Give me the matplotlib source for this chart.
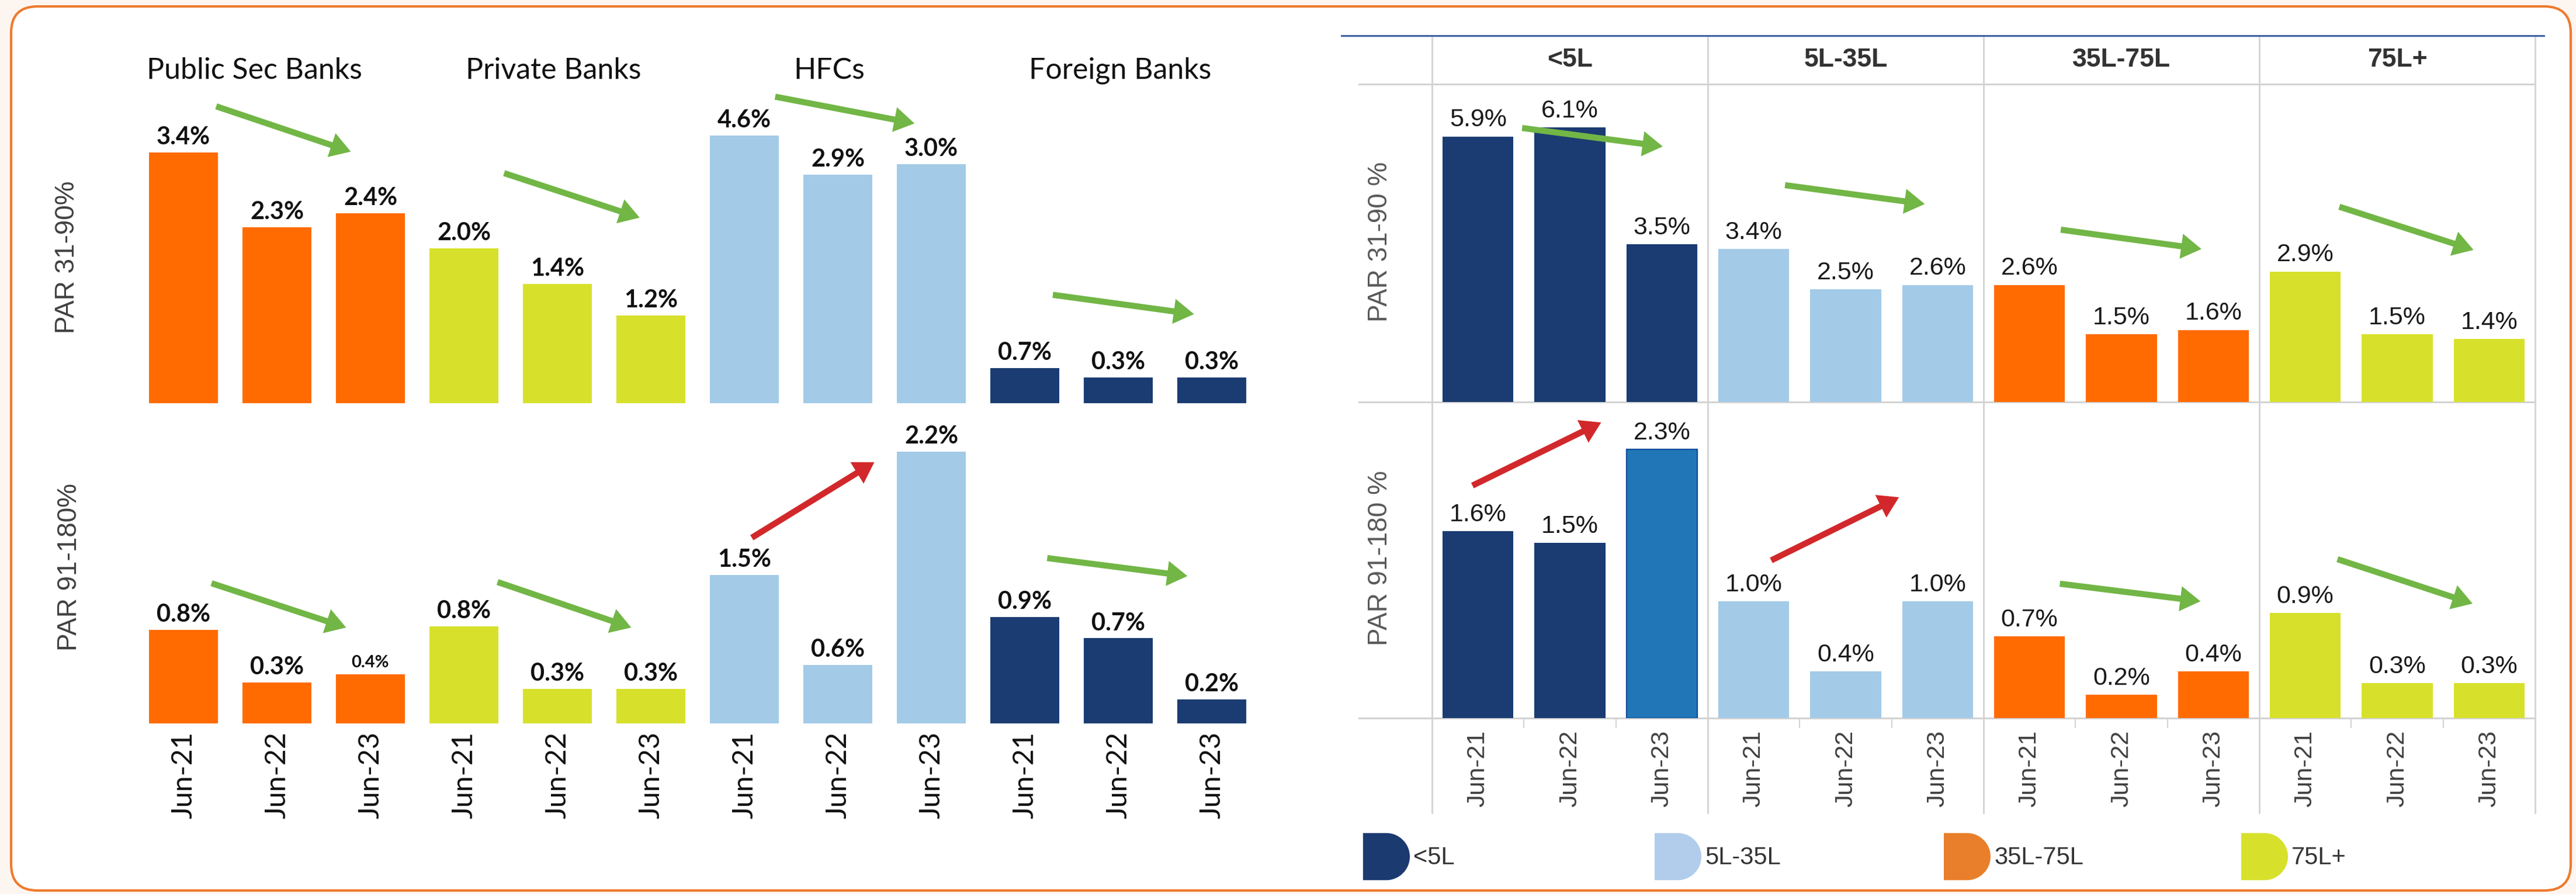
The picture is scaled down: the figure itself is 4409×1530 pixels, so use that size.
import matplotlib
matplotlib.use("Agg")

import matplotlib.pyplot as plt
import matplotlib.patches as mpatches
from matplotlib.legend_handler import HandlerPatch
from matplotlib.path import Path


W, H = 4409, 1530

# ---- data -------------------------------------------------------------
periods = ["Jun-21", "Jun-22", "Jun-23"]

bank_groups = ["Public Sec Banks", "Private Banks", "HFCs", "Foreign Banks"]
# printed values
bank_par31 = [3.4, 2.3, 2.4, 2.0, 1.4, 1.2, 4.6, 2.9, 3.0, 0.7, 0.3, 0.3]
bank_par91 = [0.8, 0.3, 0.4, 0.8, 0.3, 0.3, 1.5, 0.6, 2.2, 0.9, 0.7, 0.2]
# the source graphic does not draw these bars to scale; heights as drawn
bank_par31_drawn = [3.38, 2.37, 2.56, 2.09, 1.61, 1.18, 3.61, 3.08, 3.22, 0.47, 0.35, 0.35]
bank_par91_drawn = [0.78, 0.34, 0.41, 0.81, 0.29, 0.29, 1.24, 0.49, 2.27, 0.89, 0.71, 0.20]

ticket_groups = ["<5L", "5L-35L", "35L-75L", "75L+"]
ticket_par31 = [5.9, 6.1, 3.5, 3.4, 2.5, 2.6, 2.6, 1.5, 1.6, 2.9, 1.5, 1.4]
ticket_par91 = [1.6, 1.5, 2.3, 1.0, 0.4, 1.0, 0.7, 0.2, 0.4, 0.9, 0.3, 0.3]

# trend arrows: (x_from, y_from, x_to, y_to, colour key), in bar/value units
bank_arrows_31 = [(0.35, 4.00, 1.79, 3.39, "down"), (3.43, 3.10, 4.88, 2.50, "down"),
                  (6.33, 4.13, 7.82, 3.77, "down"), (9.30, 1.46, 10.81, 1.20, "down")]
bank_arrows_91 = [(0.30, 1.17, 1.74, 0.80, "down"), (3.36, 1.18, 4.79, 0.80, "down"),
                  (6.08, 1.55, 7.39, 2.18, "up"), (9.24, 1.38, 10.74, 1.23, "down")]
ticket_arrows_31 = [(0.48, 6.09, 2.01, 5.68, "down"), (3.34, 4.82, 4.86, 4.40, "down"),
                    (6.34, 3.83, 7.87, 3.40, "down"), (9.37, 4.34, 10.83, 3.38, "down")]
ticket_arrows_91 = [(-0.06, 1.99, 1.34, 2.53, "up"), (3.19, 1.35, 4.58, 1.89, "up"),
                    (6.33, 1.15, 7.86, 1.00, "down"), (9.35, 1.36, 10.82, 0.98, "down")]

# ---- style ------------------------------------------------------------
ORANGE = "#FF6B00"
YELLOW = "#D7E12B"
LIGHT_BLUE = "#A3CBE7"
NAVY = "#1B3C72"
MID_BLUE = "#2076B6"
ARROW = {"down": "#72B646", "up": "#D2282B"}
GRID = "#D3D3D3"

CAL = "Lato"
ARIAL = "Liberation Sans"

bank_colors = [ORANGE, YELLOW, LIGHT_BLUE, NAVY]
ticket_colors = [NAVY, LIGHT_BLUE, ORANGE, YELLOW]
legend_colors = ["#1B3A70", "#B1CDEB", "#E97F2A", "#D7E12B"]

# title anchors in bar-index units (titles sit slightly off the group centres)
bank_title_x = [0.76, 3.96, 6.91, 10.02]


def px_axes(fig, left, top, right, bottom):
    ax = fig.add_axes([left / W, 1 - bottom / H, (right - left) / W, (bottom - top) / H])
    ax.set_facecolor("none")
    for s in ax.spines.values():
        s.set_visible(False)
    ax.set_yticks([])
    return ax


def draw_arrows(ax, arrows):
    for x0, y0, x1, y1, kind in arrows:
        ax.annotate(
            "", xy=(x1, y1), xytext=(x0, y0),
            arrowprops=dict(arrowstyle="simple,head_length=25,head_width=31,tail_width=7.5",
                            mutation_scale=1, color=ARROW[kind], shrinkA=0, shrinkB=0,
                            lw=0),
            annotation_clip=False, zorder=5,
        )


def d_patch(legend, orig_handle, xdescent, ydescent, width, height, fontsize):
    x0, y0 = -xdescent, -ydescent
    r = height / 2.0
    xs = x0 + width - r
    k = 0.5523 * r
    verts = [(x0, y0), (xs, y0), (xs + k, y0), (x0 + width, y0 + r - k), (x0 + width, y0 + r),
             (x0 + width, y0 + r + k), (xs + k, y0 + height), (xs, y0 + height),
             (x0, y0 + height), (x0, y0)]
    codes = [Path.MOVETO, Path.LINETO, Path.CURVE4, Path.CURVE4, Path.CURVE4,
             Path.CURVE4, Path.CURVE4, Path.CURVE4, Path.LINETO, Path.CLOSEPOLY]
    return mpatches.PathPatch(Path(verts, codes))


fig = plt.figure(figsize=(W / 100, H / 100), dpi=100)
fig.patch.set_facecolor("#FDF6F0")

# rounded white card
bg = fig.add_axes([0, 0, 1, 1])
bg.set_xlim(0, W)
bg.set_ylim(H, 0)
bg.axis("off")
bg.add_patch(mpatches.FancyBboxPatch((19, 11), 4400 - 19, 1524 - 11,
                                     boxstyle="round,pad=0,rounding_size=45",
                                     fc="white", ec="#EE7A2E", lw=3))

x = list(range(12))

# ---- left panel: bank groups -------------------------------------------
ax_lt = px_axes(fig, 122, 90, 2170, 690)
ax_lb = px_axes(fig, 122, 700, 2170, 1238)
ax_lt.set_ylim(0, 600 / 127)
ax_lb.set_ylim(0, 538 / 205)

bar_cols = [c for c in bank_colors for _ in periods]
for ax, drawn, vals, arrows in [(ax_lt, bank_par31_drawn, bank_par31, bank_arrows_31),
                                (ax_lb, bank_par91_drawn, bank_par91, bank_arrows_91)]:
    ax.set_xlim(-1.2, 11.6)
    bars = ax.bar(x, drawn, width=0.74, color=bar_cols)
    texts = ax.bar_label(bars, labels=[f"{v:.1f}%" for v in vals], padding=5,
                         fontsize=30, fontweight="bold", family=CAL, color="#111111")
    draw_arrows(ax, arrows)
    if ax is ax_lb:
        texts[2].set_fontsize(21)

ax_lt.set_xticks([])
ax_lb.set_xticks(x)
ax_lb.set_xticklabels(periods * 4, rotation=90, fontsize=35, family=CAL, color="#111111")
ax_lb.tick_params(axis="x", length=0, pad=10)

for tx, name in zip(bank_title_x, bank_groups):
    ax_lt.text(tx, (690 - 121) / 127, name, ha="center", va="center",
               fontsize=36, family=CAL, color="#111111")

fig.text(115 / W, 1 - 440 / H, "PAR 31-90%", rotation=90, ha="center", va="center",
         fontsize=33, family=ARIAL, color="#404040")
fig.text(119 / W, 1 - 970 / H, "PAR 91-180%", rotation=90, ha="center", va="center",
         fontsize=33, family=ARIAL, color="#404040")

# ---- right panel: ticket size table ------------------------------------
ax_hd = px_axes(fig, 2451, 61, 4339, 144)
ax_rt = px_axes(fig, 2451, 144, 4339, 688)
ax_rb = px_axes(fig, 2451, 688, 4339, 1229)
ax_hd.set_ylim(0, 1)
ax_rt.set_ylim(0, 544 / 77)
ax_rb.set_ylim(0, 541 / 200)

bounds = [-0.5, 2.5, 5.5, 8.5, 11.5]
for ax in (ax_hd, ax_rt, ax_rb):
    ax.set_xlim(-0.5, 11.5)
    for b in bounds:
        ax.axvline(b, color=GRID, lw=2, ymin=-0.30 if ax is ax_rb else 0,
                   ymax=0.97 if ax is ax_hd else 1, clip_on=False, zorder=0)

ax_hd.axhline(1, color="#2F5597", lw=2, xmin=-0.082, xmax=1.008, clip_on=False)
for ax in (ax_rt, ax_rb):
    ax.axhline(0, color=GRID, lw=2.2, xmin=-0.066, xmax=1.0, clip_on=False, zorder=1)
ax_rt.axhline(ax_rt.get_ylim()[1], color=GRID, lw=2.2, xmin=-0.066, xmax=1.0,
              clip_on=False, zorder=1)
ax_hd.set_xticks([])

for i, name in enumerate(ticket_groups):
    ax_hd.text(3 * i + 1, 0.5, name, ha="center", va="center", fontsize=32,
               fontweight="bold", family=ARIAL, color="#333333")

tcols_31 = [c for c in ticket_colors for _ in periods]
tcols_91 = list(tcols_31)
tcols_91[2] = MID_BLUE
edges_91 = ["none"] * 12
edges_91[2] = "#0B4A9A"

for ax, vals, cols, edges, arrows in [
        (ax_rt, ticket_par31, tcols_31, ["none"] * 12, ticket_arrows_31),
        (ax_rb, ticket_par91, tcols_91, edges_91, ticket_arrows_91)]:
    bars = ax.bar(x, vals, width=0.77, color=cols, edgecolor=edges, linewidth=1.5, zorder=2)
    ax.bar_label(bars, labels=[f"{v:.1f}%" for v in vals], padding=6,
                 fontsize=31, family=ARIAL, color="#1A1A1A")
    draw_arrows(ax, arrows)

ax_rt.set_xticks([])
ax_rb.set_xticks(x)
ax_rb.set_xticklabels(periods * 4, rotation=90, fontsize=31, family=ARIAL, color="#404040")
ax_rb.set_xticks([0.5, 1.5, 3.5, 4.5, 6.5, 7.5, 9.5, 10.5], minor=True)
ax_rb.tick_params(axis="x", which="major", length=0, pad=15)
ax_rb.tick_params(axis="x", which="minor", length=12, width=1.5, color=GRID, direction="out")

fig.text(2362 / W, 1 - 414 / H, "PAR 31-90 %", rotation=90, ha="center", va="center",
         fontsize=33, family=ARIAL, color="#595959")
fig.text(2362 / W, 1 - 955 / H, "PAR 91-180 %", rotation=90, ha="center", va="center",
         fontsize=33, family=ARIAL, color="#595959")

# legend with D-shaped keys
legend_x = [2333, 2832, 3327, 3836]
for lx, name, col in zip(legend_x, ticket_groups, legend_colors):
    handle = mpatches.Patch(facecolor=col, edgecolor="none")
    fig.legend(handles=[handle], labels=[name], loc="center left",
               bbox_to_anchor=(lx / W, 1 - 1466 / H), frameon=False,
               borderpad=0, borderaxespad=0, handlelength=1.92, handleheight=2.6,
               handletextpad=0.15, prop={"family": ARIAL, "size": 30},
               labelcolor="#333333",
               handler_map={mpatches.Patch: HandlerPatch(patch_func=d_patch)})

fig.savefig("out.png", dpi=100, facecolor=fig.get_facecolor())
